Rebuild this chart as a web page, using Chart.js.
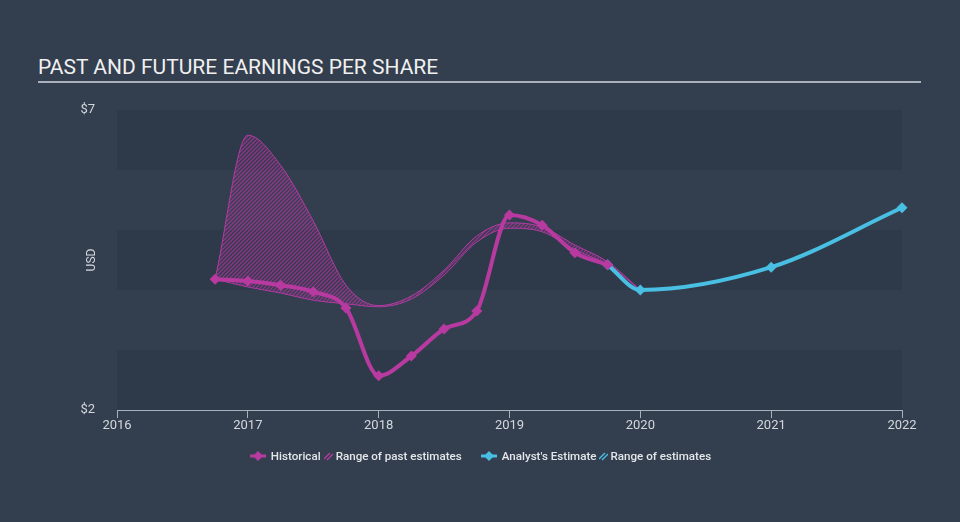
<!DOCTYPE html>
<html>
<head>
<meta charset="utf-8">
<script src="https://cdn.jsdelivr.net/npm/chart.js@4"></script>
<style>
  html, body { margin: 0; padding: 0; background: #333f4f; }
  body { width: 960px; height: 522px; position: relative; overflow: hidden; font-family: Roboto, "Noto Sans", sans-serif; }
  #title { position: absolute; left: 38px; top: 55px; font-size: 21px; line-height: 24px; color: #f0f0f0; white-space: nowrap; }
  #rule { position: absolute; left: 38px; top: 81px; width: 883px; height: 2px; background: #aab1ba; }
  #chart { position: absolute; left: 0; top: 0; }
  #legend { position: absolute; left: 0; right: 0; top: 449px; display: flex; justify-content: center; align-items: center; font-size: 11.6px; font-weight: 500; color: #e4e6ea; white-space: nowrap; }
  #legend .item { display: flex; align-items: center; }
  #legend svg { display: block; }
</style>
</head>
<body>
<div id="title">PAST AND FUTURE EARNINGS PER SHARE</div>
<div id="rule"></div>
<canvas id="chart" width="960" height="522"></canvas>
<div id="legend">
  <div class="item">
    <svg width="18" height="12"><line x1="1" y1="6" x2="17" y2="6" stroke="#b83aa0" stroke-width="3"/><path d="M9 1 L14 6 L9 11 L4 6 Z" fill="#b83aa0"/></svg>
    <span style="margin-left:4px">Historical</span>
  </div>
  <div class="item" style="margin-left:3px">
    <svg width="9" height="10"><path d="M0 8 L6 2 M3 9 L9 3" stroke="#b83aa0" stroke-width="1.4"/></svg>
    <span style="margin-left:3px">Range of past estimates</span>
  </div>
  <div class="item" style="margin-left:18px">
    <svg width="18" height="12"><line x1="1" y1="6" x2="17" y2="6" stroke="#48bfe3" stroke-width="3"/><path d="M9 1 L14 6 L9 11 L4 6 Z" fill="#48bfe3"/></svg>
    <span style="margin-left:4px">Analyst's Estimate</span>
  </div>
  <div class="item" style="margin-left:2px">
    <svg width="9" height="10"><path d="M0 8 L6 2 M3 9 L9 3" stroke="#48bfe3" stroke-width="1.4"/></svg>
    <span style="margin-left:3px">Range of estimates</span>
  </div>
</div>
<script>
(function () {
  // quarters as decimal years
  const histYears = [2016.75, 2017.0, 2017.25, 2017.5, 2017.75, 2018.0, 2018.25, 2018.5, 2018.75, 2019.0, 2019.25, 2019.5, 2019.75];
  const histEps = [4.18, 4.15, 4.08, 3.97, 3.70, 2.57, 2.90, 3.35, 3.65, 5.25, 5.08, 4.62, 4.42];

  const estYears = [2019.75, 2020.0, 2021.0, 2022.0];
  const estEps = [4.42, 4.0, 4.38, 5.37];

  const rangeYears = [2016.75, 2017.0, 2017.25, 2017.5, 2017.75, 2018.0, 2018.25, 2018.5, 2018.75, 2019.0, 2019.25, 2019.5, 2019.75, 2020.0];
  const pastHigh = [4.18, 6.58, 6.08, 5.15, 4.08, 3.74, 3.90, 4.33, 4.90, 5.12, 5.05, 4.75, 4.47, 4.0];
  const pastLow = [4.18, 4.05, 3.95, 3.83, 3.77, 3.72, 3.85, 4.25, 4.80, 5.03, 4.97, 4.67, 4.42, 4.0];

  const yearTicks = [2016, 2017, 2018, 2019, 2020, 2021, 2022];
  const usdTicks = [2, 7];

  const magenta = "#b83aa0";
  const blue = "#48bfe3";

  function pts(xs, ys) {
    return xs.map(function (x, i) {
      return { x: x, y: ys[i] };
    });
  }

  function hatch(color, tint) {
    const c = document.createElement("canvas");
    c.width = 4;
    c.height = 4;
    const g = c.getContext("2d");
    g.fillStyle = tint;
    g.fillRect(0, 0, 4, 4);
    g.strokeStyle = color;
    g.lineWidth = 1.2;
    g.beginPath();
    g.moveTo(0, 4);
    g.lineTo(4, 0);
    g.moveTo(-1, 1);
    g.lineTo(1, -1);
    g.moveTo(3, 5);
    g.lineTo(5, 3);
    g.stroke();
    return g.createPattern(c, "repeat");
  }

  // alternating horizontal stripes behind the plot
  const bands = {
    id: "bands",
    beforeDraw: function (chart) {
      const a = chart.chartArea;
      const y = chart.scales.y;
      const ctx = chart.ctx;
      ctx.save();
      for (let v = 7; v > 2; v -= 2) {
        const top = y.getPixelForValue(v);
        const bot = y.getPixelForValue(v - 1);
        ctx.fillStyle = "#2e3a49";
        ctx.fillRect(a.left, top, a.right - a.left, bot - top);
      }
      ctx.restore();
    },
  };

  const common = {
    cubicInterpolationMode: "monotone",
    clip: false,
  };

  new Chart(document.getElementById("chart"), {
    type: "line",
    data: {
      datasets: [
        Object.assign({
          label: "Historical",
          data: pts(histYears, histEps),
          borderColor: magenta,
          backgroundColor: magenta,
          borderWidth: 4,
          pointStyle: "rectRot",
          pointRadius: 5.5,
          pointBorderWidth: 0,
          fill: false,
        }, common),
        Object.assign({
          label: "Analyst's Estimate",
          data: pts(estYears, estEps),
          borderColor: blue,
          backgroundColor: blue,
          borderWidth: 4,
          pointStyle: "rectRot",
          pointRadius: 5.5,
          pointBorderWidth: 0,
          fill: false,
        }, common),
        Object.assign({
          label: "Past high",
          data: pts(rangeYears, pastHigh),
          borderColor: "rgba(195, 60, 175, 0.85)",
          borderWidth: 1,
          pointRadius: 0,
          backgroundColor: hatch("rgba(185, 55, 165, 0.7)", "rgba(185, 55, 165, 0.1)"),
          fill: "+1",
        }, common),
        Object.assign({
          label: "Past low",
          data: pts(rangeYears, pastLow),
          borderColor: "rgba(195, 60, 175, 0.85)",
          borderWidth: 1,
          pointRadius: 0,
          fill: false,
        }, common),
      ],
    },
    options: {
      responsive: false,
      animation: false,
      layout: { padding: { left: 60, right: 58, top: 110, bottom: 82 } },
      plugins: {
        legend: { display: false },
        tooltip: { enabled: false },
      },
      scales: {
        x: {
          type: "linear",
          min: 2016,
          max: 2022,
          afterFit: function (s) {
            s.height = 30;
          },
          afterBuildTicks: function (s) {
            s.ticks = yearTicks.map(function (v) {
              return { value: v };
            });
          },
          ticks: {
            color: "#d4d8dd",
            font: { family: "Roboto", size: 13 },
            padding: 0,
            maxRotation: 0,
            callback: function (v) {
              return String(v);
            },
          },
          grid: {
            display: true,
            drawOnChartArea: false,
            drawTicks: true,
            tickLength: 8,
            color: "#a9b0ba",
          },
          border: { display: true, color: "#a9b0ba", width: 1 },
        },
        y: {
          type: "linear",
          min: 2,
          max: 7,
          afterFit: function (s) {
            s.width = 57;
          },
          afterBuildTicks: function (s) {
            s.ticks = usdTicks.map(function (v) {
              return { value: v };
            });
          },
          ticks: {
            color: "#d4d8dd",
            font: { family: "Roboto", size: 13 },
            padding: 14,
            callback: function (v) {
              return "$" + v;
            },
          },
          title: {
            display: true,
            text: "USD",
            color: "#d4d8dd",
            font: { family: "Roboto", size: 12 },
            padding: { top: 25, bottom: 0 },
          },
          grid: { display: false },
          border: { display: false },
        },
      },
    },
    plugins: [bands],
  });
})();
</script>
</body>
</html>
